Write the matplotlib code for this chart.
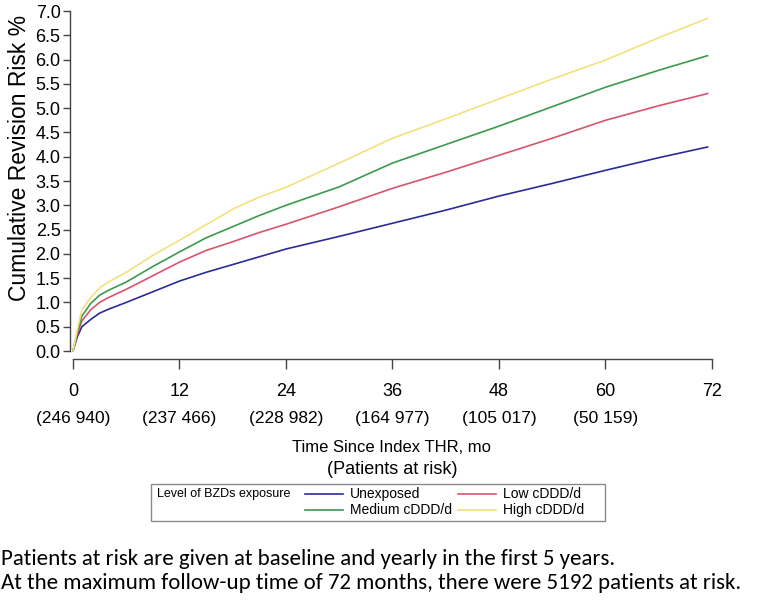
import matplotlib
matplotlib.use("Agg")
import matplotlib.pyplot as plt
from matplotlib.lines import Line2D
from matplotlib.patches import Rectangle
from matplotlib import font_manager

def pick(fams):
    avail = {f.name for f in font_manager.fontManager.ttflist}
    for f in fams:
        if f in avail:
            return f
    return "DejaVu Sans"

SANS = pick(["Liberation Sans", "DejaVu Sans"])
FOOT = pick(["Carlito", "Lato", "Open Sans"])
plt.rcParams["font.family"] = [SANS, "DejaVu Sans"]

months = [0, 0.5, 1, 2, 3, 4, 6, 9, 12, 15, 18, 21, 24, 30, 36, 42, 48, 54, 60, 66, 71.5]
unexposed = [0, 0.30, 0.50, 0.65, 0.78, 0.86, 1.00, 1.22, 1.44, 1.62, 1.78, 1.94, 2.10, 2.36, 2.63, 2.90, 3.19, 3.45, 3.72, 3.98, 4.20]
low = [0, 0.35, 0.62, 0.85, 1.00, 1.10, 1.27, 1.55, 1.83, 2.07, 2.25, 2.44, 2.61, 2.97, 3.35, 3.68, 4.03, 4.38, 4.75, 5.05, 5.30]
medium = [0, 0.40, 0.72, 0.98, 1.15, 1.25, 1.42, 1.74, 2.04, 2.33, 2.56, 2.79, 3.00, 3.38, 3.87, 4.25, 4.63, 5.03, 5.43, 5.78, 6.08]
high = [0, 0.45, 0.85, 1.10, 1.30, 1.42, 1.62, 1.97, 2.28, 2.60, 2.92, 3.17, 3.37, 3.87, 4.38, 4.78, 5.19, 5.60, 5.99, 6.45, 6.85]

x_ticks = [0, 12, 24, 36, 48, 60, 72]
y_ticks = [0.0, 0.5, 1.0, 1.5, 2.0, 2.5, 3.0, 3.5, 4.0, 4.5, 5.0, 5.5, 6.0, 6.5, 7.0]
at_risk_months = [0, 12, 24, 36, 48, 60]
at_risk = ["(246 940)", "(237 466)", "(228 982)", "(164 977)", "(105 017)", "(50 159)"]

series = [
    ("Unexposed", unexposed, "#2b2b9c"),
    ("Low cDDD/d", low, "#d8546c"),
    ("Medium cDDD/d", medium, "#3c9a4c"),
    ("High cDDD/d", high, "#f2e27c"),
]

W, H = 758, 600
fig = plt.figure(figsize=(W / 100, H / 100), dpi=100)
ax = fig.add_axes([73 / W, 1 - 351 / H, (712 - 73) / W, (351 - 11) / H])

for name, vals, col in series:
    ax.plot(months, vals, color=col, lw=1.2, solid_joinstyle="round", clip_on=False)

ax.set_xlim(0, 72)
ax.set_ylim(0, 7)
ax.tick_params(axis="y", length=5, width=1, color="#444444", pad=2, labelsize=13)
ax.tick_params(axis="x", length=7, width=1, color="#444444", pad=10, labelsize=13)
ax.set_xticks(x_ticks)
ax.set_yticks(y_ticks)
ax.set_yticklabels([f"{v:.1f}" for v in y_ticks])
ax.set_xticklabels([str(v) for v in x_ticks])
for s in ["top", "right"]:
    ax.spines[s].set_visible(False)
ax.spines["bottom"].set_position(("outward", 6))
ax.spines["left"].set_position(("outward", 2))
for s in ["bottom", "left"]:
    ax.spines[s].set_color("#444444")
    ax.spines[s].set_linewidth(1.0)

fig.text(20 / W, 1 - 158 / H, "Cumulative Revision Risk %", rotation=90,
         ha="center", va="center", fontsize=16.5)

# patients at risk row
for m, t in zip(at_risk_months, at_risk):
    ax.annotate(t, xy=(m, 0), xycoords=("data", "axes fraction"),
                xytext=(0, -(418 - 351)), textcoords="offset pixels",
                ha="center", va="center", fontsize=12.5)

fig.text(392 / W, 1 - 447 / H, "Time Since Index THR, mo", ha="center", va="center", fontsize=12)
fig.text(392 / W, 1 - 469 / H, "(Patients at risk)", ha="center", va="center", fontsize=13)

# legend box
fig.patches.append(Rectangle((151 / W, 1 - 521 / H), (605 - 151) / W, (521 - 484) / H,
                             transform=fig.transFigure, fill=False, edgecolor="#8a8a8a", lw=1.0))
fig.text(157 / W, 1 - 494 / H, "Level of BZDs exposure", ha="left", va="center", fontsize=9)
pos = {0: (305, 494), 1: (458, 494), 2: (305, 510), 3: (458, 510)}
for i, (name, vals, col) in enumerate(series):
    x0, yy = pos[i]
    fig.lines.append(Line2D([x0 / W, (x0 + 38) / W], [1 - yy / H, 1 - yy / H],
                            transform=fig.transFigure, color=col, lw=1.2))
    fig.text((x0 + 45) / W, 1 - yy / H, name, ha="left", va="center", fontsize=10)

fig.text(1 / W, 1 - 559 / H, "Patients at risk are given at baseline and yearly in the first 5 years.",
         ha="left", va="center", fontfamily=FOOT, fontsize=16.5)
fig.text(1 / W, 1 - 583 / H, "At the maximum follow-up time of 72 months, there were 5192 patients at risk.",
         ha="left", va="center", fontfamily=FOOT, fontsize=16.5)

fig.savefig("out.png", dpi=100)
